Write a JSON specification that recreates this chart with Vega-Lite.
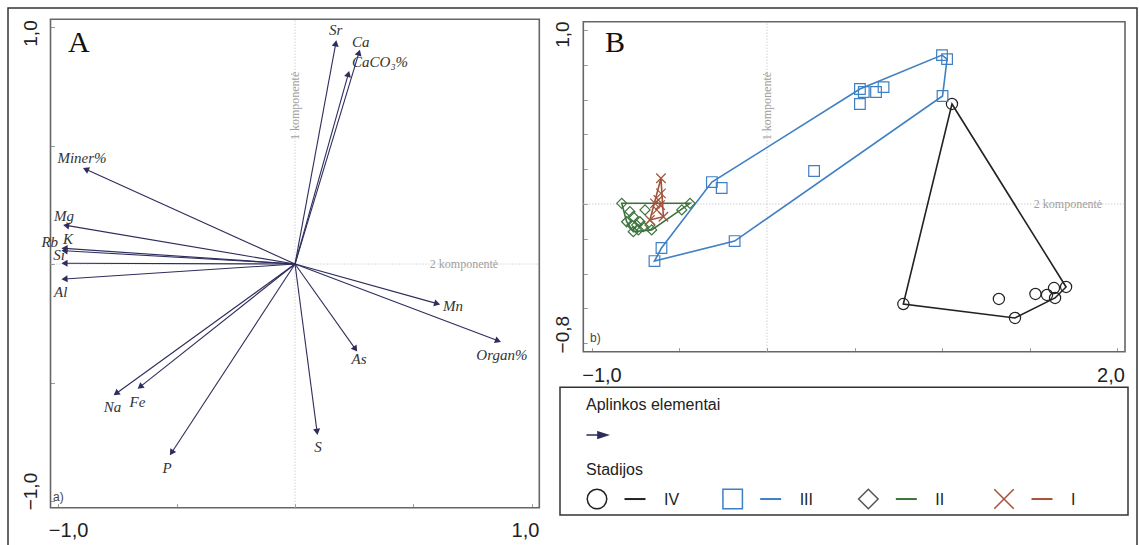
{
  "$schema": "https://vega.github.io/schema/vega-lite/v6.json",
  "width": 1129,
  "height": 540,
  "padding": {"left": 8, "top": 8, "right": 2, "bottom": 0},
  "autosize": {"type": "none"},
  "background": "white",
  "config": {"view": {"stroke": "#333333", "strokeWidth": 1.5}, "font": "Liberation Sans"},
  "datasets": {
    "one": [{}],
    "arrows": [
      {"name": "Sr", "x": 0.172, "y": 0.931, "lx": 0.172, "ly": 0.987},
      {"name": "Ca", "x": 0.27, "y": 0.892, "lx": 0.277, "ly": 0.938},
      {"name": "CaCO₃%", "x": 0.225, "y": 0.802, "lx": 0.359, "ly": 0.854},
      {"name": "Miner%", "x": -0.883, "y": 0.4, "lx": -0.899, "ly": 0.446},
      {"name": "Mg", "x": -0.966, "y": 0.163, "lx": -0.975, "ly": 0.203},
      {"name": "Rb", "x": -0.973, "y": 0.056, "lx": -1.035, "ly": 0.093},
      {"name": "K", "x": -0.973, "y": 0.066, "lx": -0.958, "ly": 0.105},
      {"name": "Si", "x": -0.973, "y": 0.003, "lx": -0.996, "ly": 0.038},
      {"name": "Al", "x": -0.973, "y": -0.063, "lx": -0.989, "ly": -0.117},
      {"name": "Mn", "x": 0.6, "y": -0.167, "lx": 0.667, "ly": -0.177},
      {"name": "Organ%", "x": 0.857, "y": -0.324, "lx": 0.873, "ly": -0.384},
      {"name": "As", "x": 0.255, "y": -0.359, "lx": 0.27, "ly": -0.402},
      {"name": "S", "x": 0.093, "y": -0.708, "lx": 0.097, "ly": -0.771},
      {"name": "Na", "x": -0.755, "y": -0.546, "lx": -0.77, "ly": -0.602},
      {"name": "Fe", "x": -0.654, "y": -0.518, "lx": -0.665, "ly": -0.581},
      {"name": "P", "x": -0.521, "y": -0.796, "lx": -0.54, "ly": -0.862}
    ],
    "samples": [
      {"stage": "IV", "x": 1.057, "y": 0.575, "h": 1},
      {"stage": "IV", "x": 1.709, "y": -0.477, "h": 2},
      {"stage": "IV", "x": 1.646, "y": -0.54, "h": 3},
      {"stage": "IV", "x": 1.417, "y": -0.655, "h": 4},
      {"stage": "IV", "x": 0.779, "y": -0.575, "h": 5},
      {"stage": "IV", "x": 1.325, "y": -0.546},
      {"stage": "IV", "x": 1.534, "y": -0.517},
      {"stage": "IV", "x": 1.6, "y": -0.523},
      {"stage": "IV", "x": 1.64, "y": -0.483},
      {"stage": "III", "x": -0.643, "y": -0.328, "h": 1},
      {"stage": "III", "x": -0.603, "y": -0.253, "h": 2},
      {"stage": "III", "x": -0.315, "y": 0.126, "h": 3},
      {"stage": "III", "x": 0.531, "y": 0.661, "h": 4},
      {"stage": "III", "x": 1.0, "y": 0.856, "h": 5},
      {"stage": "III", "x": 1.029, "y": 0.833, "h": 6},
      {"stage": "III", "x": 1.003, "y": 0.621, "h": 7},
      {"stage": "III", "x": -0.185, "y": -0.213, "h": 8},
      {"stage": "III", "x": 0.553, "y": 0.644},
      {"stage": "III", "x": 0.623, "y": 0.644},
      {"stage": "III", "x": 0.666, "y": 0.672},
      {"stage": "III", "x": 0.531, "y": 0.575},
      {"stage": "III", "x": 0.269, "y": 0.19},
      {"stage": "III", "x": -0.259, "y": 0.092},
      {"stage": "II", "x": -0.83, "y": 0.004, "h": 1},
      {"stage": "II", "x": -0.44, "y": 0.004, "h": 2},
      {"stage": "II", "x": -0.659, "y": -0.149, "h": 3},
      {"stage": "II", "x": -0.764, "y": -0.159, "h": 4},
      {"stage": "II", "x": -0.802, "y": -0.102, "h": 5},
      {"stage": "II", "x": -0.487, "y": -0.034},
      {"stage": "II", "x": -0.783, "y": -0.044},
      {"stage": "II", "x": -0.764, "y": -0.073},
      {"stage": "II", "x": -0.697, "y": -0.034},
      {"stage": "II", "x": -0.726, "y": -0.102},
      {"stage": "II", "x": -0.745, "y": -0.121},
      {"stage": "II", "x": -0.773, "y": -0.121},
      {"stage": "II", "x": -0.707, "y": -0.13},
      {"stage": "II", "x": -0.669, "y": -0.121},
      {"stage": "II", "x": -0.735, "y": -0.149},
      {"stage": "I", "x": -0.606, "y": 0.148, "h": 1},
      {"stage": "I", "x": -0.592, "y": -0.073, "h": 2},
      {"stage": "I", "x": -0.669, "y": -0.092, "h": 3},
      {"stage": "I", "x": -0.606, "y": 0.061},
      {"stage": "I", "x": -0.621, "y": 0.023},
      {"stage": "I", "x": -0.64, "y": 0.004},
      {"stage": "I", "x": -0.611, "y": -0.006},
      {"stage": "I", "x": -0.63, "y": -0.034}
    ],
    "stages": [{"stage": "IV"}, {"stage": "III"}, {"stage": "II"}, {"stage": "I"}]
  },
  "layer": [
    {
      "layer": [
        {
          "data": {"name": "one"},
          "mark": {"type": "rect", "fillOpacity": 0, "stroke": "#666666", "strokeWidth": 1.6},
          "encoding": {
            "x": {"datum": -1.032, "type": "quantitative",
              "scale": {"domain": [-1.032, 1.031], "range": [42.5, 531.3], "nice": false, "zero": false},
              "axis": {"orient": "bottom", "offset": -40.3, "title": null, "values": [-1, -0.5, 0, 0.5, 1], "domain": false, "grid": false,
                "ticks": true, "tickSize": -4, "tickColor": "#999999", "tickWidth": 1,
                "labelExpr": "abs(datum.value) == 1 ? replace(format(datum.value, '.1f'), '.', ',') : ''",
                "labelFont": "Liberation Sans", "labelFontSize": 20, "labelColor": "#222222", "labelPadding": 16.5,
                "labelAlign": "center", "labelBaseline": "top", "labelOverlap": false, "labelBound": false, "labelFlush": false,
                "labelOffset": {"condition": {"test": "datum.value < 0", "value": 10}, "value": -7}}},
            "x2": {"datum": 1.031},
            "y": {"datum": -1.028, "type": "quantitative",
              "scale": {"domain": [-1.028, 1.0325], "range": [499.7, 11.3], "nice": false, "zero": false},
              "axis": {"orient": "left", "offset": -42.5, "title": null, "values": [-1, -0.5, 0, 0.5, 1], "domain": false, "grid": false,
                "ticks": true, "tickSize": -4, "tickColor": "#999999", "tickWidth": 1,
                "labelExpr": "abs(datum.value) == 1 ? replace(format(datum.value, '.1f'), '.', ',') : ''",
                "labelFont": "Liberation Sans", "labelFontSize": 19, "labelColor": "#222222", "labelPadding": 14, "labelAngle": -90,
                "labelAlign": "center", "labelBaseline": "bottom", "labelOverlap": false, "labelBound": false, "labelFlush": false,
                "labelOffset": {"condition": {"test": "datum.value > 0", "value": 6}, "value": -10}}},
            "y2": {"datum": 1.0325}
          }
        },
        {
          "data": {"name": "one"},
          "mark": {"type": "rule", "color": "#bbbbbb", "strokeDash": [1, 2], "strokeWidth": 1},
          "encoding": {"x": {"datum": 0, "type": "quantitative"}, "y": {"datum": -1.028, "type": "quantitative"}, "y2": {"datum": 1.0325}}
        },
        {
          "data": {"name": "one"},
          "mark": {"type": "rule", "color": "#bbbbbb", "strokeDash": [1, 2], "strokeWidth": 1},
          "encoding": {"x": {"datum": -1.032, "type": "quantitative"}, "x2": {"datum": 1.031}, "y": {"datum": 0, "type": "quantitative"}}
        },
        {
          "data": {"name": "one"},
          "mark": {"type": "text", "text": "1 komponentė", "angle": 270, "font": "Liberation Serif", "fontSize": 12, "color": "#a0a0a0", "align": "center", "baseline": "middle"},
          "encoding": {"x": {"datum": 0, "type": "quantitative"}, "y": {"datum": 0.667, "type": "quantitative"}}
        },
        {
          "data": {"name": "one"},
          "mark": {"type": "text", "text": "2 komponentė", "font": "Liberation Serif", "fontSize": 12, "color": "#a0a0a0", "align": "center", "baseline": "middle"},
          "encoding": {"x": {"datum": 0.713, "type": "quantitative"}, "y": {"datum": 0, "type": "quantitative"}}
        },
        {
          "data": {"name": "one"},
          "mark": {"type": "text", "text": "A", "font": "Liberation Serif", "fontSize": 30, "color": "#111111", "align": "left", "baseline": "alphabetic"},
          "encoding": {"x": {"datum": -0.958, "type": "quantitative"}, "y": {"datum": 0.896, "type": "quantitative"}}
        },
        {
          "data": {"name": "one"},
          "mark": {"type": "text", "text": "a)", "font": "Liberation Sans", "fontSize": 12, "color": "#444444", "align": "left", "baseline": "alphabetic"},
          "encoding": {"x": {"datum": -1.021, "type": "quantitative"}, "y": {"datum": -1.0, "type": "quantitative"}}
        },
        {
          "data": {"name": "arrows"},
          "mark": {"type": "rule", "color": "#2e2d5c", "strokeWidth": 1.1},
          "encoding": {"x": {"field": "x", "type": "quantitative"}, "x2": {"datum": 0}, "y": {"field": "y", "type": "quantitative"}, "y2": {"datum": 0}}
        },
        {
          "data": {"name": "arrows"},
          "mark": {"type": "point", "shape": "triangle-up", "filled": true, "size": 50, "color": "#2e2d5c", "opacity": 1,
            "angle": {"expr": "atan2(datum.x, datum.y) * 180 / PI"}},
          "encoding": {"x": {"field": "x", "type": "quantitative"}, "y": {"field": "y", "type": "quantitative"}}
        },
        {
          "data": {"name": "arrows"},
          "mark": {"type": "text", "font": "Liberation Serif", "fontStyle": "italic", "fontSize": 15, "color": "#333333", "align": "center", "baseline": "middle"},
          "encoding": {"x": {"field": "lx", "type": "quantitative"}, "y": {"field": "ly", "type": "quantitative"}, "text": {"field": "name"}}
        }
      ]
    },
    {
      "layer": [
        {
          "data": {"name": "one"},
          "mark": {"type": "rect", "fillOpacity": 0, "stroke": "#666666", "strokeWidth": 1.6},
          "encoding": {
            "x": {"datum": -1.0497, "type": "quantitative",
              "scale": {"domain": [-1.0497, 2.0457], "range": [575.3, 1117], "nice": false, "zero": false},
              "axis": {"orient": "bottom", "offset": -196.3, "title": null, "values": [-1, -0.5, 0, 0.5, 1, 1.5, 2], "domain": false, "grid": false,
                "ticks": true, "tickSize": -4, "tickColor": "#999999", "tickWidth": 1,
                "labelExpr": "(datum.value == -1 || datum.value == 2) ? replace(format(datum.value, '.1f'), '.', ',') : ''",
                "labelFont": "Liberation Sans", "labelFontSize": 20, "labelColor": "#222222", "labelPadding": 17.5,
                "labelAlign": "center", "labelBaseline": "top", "labelOverlap": false, "labelBound": false, "labelFlush": false,
                "labelOffset": {"condition": {"test": "datum.value < 0", "value": 9.5}, "value": -6.5}}},
            "x2": {"datum": 2.0457},
            "y": {"datum": -0.849, "type": "quantitative",
              "scale": {"domain": [-0.849, 1.048], "range": [343.7, 13.7], "nice": false, "zero": false},
              "axis": {"orient": "left", "offset": -575.3, "title": null, "values": [-0.8, -0.6, -0.4, -0.2, 0, 0.2, 0.4, 0.6, 0.8, 1], "domain": false, "grid": false,
                "ticks": true, "tickSize": -4, "tickColor": "#999999", "tickWidth": 1,
                "labelExpr": "(datum.value == 1 || datum.value == -0.8) ? replace(format(datum.value, '.1f'), '.', ',') : ''",
                "labelFont": "Liberation Sans", "labelFontSize": 19, "labelColor": "#222222", "labelPadding": 15, "labelAngle": -90,
                "labelAlign": "center", "labelBaseline": "bottom", "labelOverlap": false, "labelBound": false, "labelFlush": false,
                "labelOffset": {"condition": {"test": "datum.value > 0", "value": 4}, "value": -9}}},
            "y2": {"datum": 1.048}
          }
        },
        {
          "data": {"name": "one"},
          "mark": {"type": "rule", "color": "#bbbbbb", "strokeDash": [1, 2], "strokeWidth": 1},
          "encoding": {"x": {"datum": 0, "type": "quantitative"}, "y": {"datum": -0.849, "type": "quantitative"}, "y2": {"datum": 1.048}}
        },
        {
          "data": {"name": "one"},
          "mark": {"type": "rule", "color": "#bbbbbb", "strokeDash": [1, 2], "strokeWidth": 1},
          "encoding": {"x": {"datum": -1.0497, "type": "quantitative"}, "x2": {"datum": 2.0457}, "y": {"datum": 0, "type": "quantitative"}}
        },
        {
          "data": {"name": "one"},
          "mark": {"type": "text", "text": "1 komponentė", "angle": 270, "font": "Liberation Serif", "fontSize": 12, "color": "#a0a0a0", "align": "center", "baseline": "middle"},
          "encoding": {"x": {"datum": 0, "type": "quantitative"}, "y": {"datum": 0.563, "type": "quantitative"}}
        },
        {
          "data": {"name": "one"},
          "mark": {"type": "text", "text": "2 komponentė", "font": "Liberation Serif", "fontSize": 12, "color": "#a0a0a0", "align": "center", "baseline": "middle"},
          "encoding": {"x": {"datum": 1.72, "type": "quantitative"}, "y": {"datum": 0, "type": "quantitative"}}
        },
        {
          "data": {"name": "one"},
          "mark": {"type": "text", "text": "B", "font": "Liberation Serif", "fontSize": 30, "color": "#111111", "align": "left", "baseline": "alphabetic"},
          "encoding": {"x": {"datum": -0.926, "type": "quantitative"}, "y": {"datum": 0.875, "type": "quantitative"}}
        },
        {
          "data": {"name": "one"},
          "mark": {"type": "text", "text": "b)", "font": "Liberation Sans", "fontSize": 12, "color": "#444444", "align": "left", "baseline": "alphabetic"},
          "encoding": {"x": {"datum": -1.011, "type": "quantitative"}, "y": {"datum": -0.793, "type": "quantitative"}}
        },
        {
          "data": {"name": "samples"},
          "transform": [{"filter": "isValid(datum.h)"}],
          "mark": {"type": "line", "interpolate": "linear-closed", "strokeWidth": 1.6},
          "encoding": {
            "x": {"field": "x", "type": "quantitative"},
            "y": {"field": "y", "type": "quantitative"},
            "order": {"field": "h", "type": "quantitative"},
            "color": {"field": "stage", "type": "nominal", "legend": null,
              "scale": {"domain": ["IV", "III", "II", "I"], "range": ["#222222", "#3f7fc4", "#3c733c", "#a3533a"]}}
          }
        },
        {
          "data": {"name": "samples"},
          "mark": {"type": "point", "filled": false, "strokeWidth": 1.2, "opacity": 1},
          "encoding": {
            "x": {"field": "x", "type": "quantitative"},
            "y": {"field": "y", "type": "quantitative"},
            "color": {"field": "stage", "type": "nominal", "legend": null},
            "shape": {"field": "stage", "type": "nominal", "legend": null,
              "scale": {"domain": ["IV", "III", "II", "I"], "range": ["circle", "square", "diamond", "M-1,-1L1,1M-1,1L1,-1"]}},
            "size": {"field": "stage", "type": "ordinal", "legend": null,
              "scale": {"domain": ["IV", "III", "II", "I"], "range": [125, 90, 90, 81]}}
          }
        }
      ]
    },
    {
      "layer": [
        {
          "layer": [
            {
              "data": {"name": "one"},
              "mark": {"type": "rect", "fillOpacity": 0, "stroke": "#333333", "strokeWidth": 1.5},
              "encoding": {
                "x": {"datum": 0, "type": "quantitative", "axis": null, "scale": {"domain": [0, 1], "range": [552, 1120], "nice": false, "zero": false}},
                "x2": {"datum": 1},
                "y": {"datum": 0, "type": "quantitative", "axis": null, "scale": {"domain": [0, 1], "range": [507, 379.3], "nice": false, "zero": false}},
                "y2": {"datum": 1}
              }
            },
            {
              "data": {"name": "one"},
              "mark": {"type": "text", "text": "Aplinkos elementai", "fontSize": 16, "color": "#222222", "align": "left", "baseline": "alphabetic"},
              "encoding": {"x": {"datum": 0.0458, "type": "quantitative", "axis": null}, "y": {"datum": 0.826, "type": "quantitative", "axis": null}}
            },
            {
              "data": {"name": "one"},
              "mark": {"type": "text", "text": "Stadijos", "fontSize": 16, "color": "#222222", "align": "left", "baseline": "alphabetic"},
              "encoding": {"x": {"datum": 0.0458, "type": "quantitative", "axis": null}, "y": {"datum": 0.313, "type": "quantitative", "axis": null}}
            },
            {
              "data": {"name": "one"},
              "mark": {"type": "point", "shape": "M-1,0L0.2,0M0.1,-0.3L1,0L0.1,0.3Z", "size": 441, "fill": "#2e2d5c", "stroke": "#2e2d5c", "strokeWidth": 1.6, "filled": true, "opacity": 1},
              "encoding": {"x": {"datum": 0.065, "type": "quantitative", "axis": null}, "y": {"datum": 0.626, "type": "quantitative", "axis": null}}
            }
          ]
        },
        {
          "layer": [
            {
              "data": {"name": "stages"},
              "mark": {"type": "point", "filled": false, "size": 380, "strokeWidth": 1.5, "opacity": 1},
              "encoding": {
                "x": {"field": "stage", "type": "ordinal", "axis": null, "scale": {"type": "point", "domain": ["IV", "III", "II", "I"], "range": [589, 996], "padding": 0}},
                "y": {"datum": 0.125, "type": "quantitative", "axis": null},
                "color": {"field": "stage", "type": "nominal", "legend": null, "condition": {"test": "datum.stage == 'II'", "value": "#555555"}},
                "shape": {"field": "stage", "type": "nominal", "legend": null}
              }
            },
            {
              "data": {"name": "stages"},
              "mark": {"type": "tick", "orient": "horizontal", "size": 21, "thickness": 2, "xOffset": 38, "opacity": 1},
              "encoding": {
                "x": {"field": "stage", "type": "ordinal", "axis": null},
                "y": {"datum": 0.125, "type": "quantitative", "axis": null},
                "color": {"field": "stage", "type": "nominal", "legend": null}
              }
            },
            {
              "data": {"name": "stages"},
              "mark": {"type": "text", "fontSize": 16, "color": "#222222", "align": "left", "baseline": "middle", "dx": 67, "dy": 1},
              "encoding": {
                "x": {"field": "stage", "type": "ordinal", "axis": null},
                "y": {"datum": 0.125, "type": "quantitative", "axis": null},
                "text": {"field": "stage"}
              }
            }
          ]
        }
      ],
      "resolve": {"scale": {"x": "independent"}}
    }
  ],
  "resolve": {"scale": {"x": "independent", "y": "independent"}}
}
